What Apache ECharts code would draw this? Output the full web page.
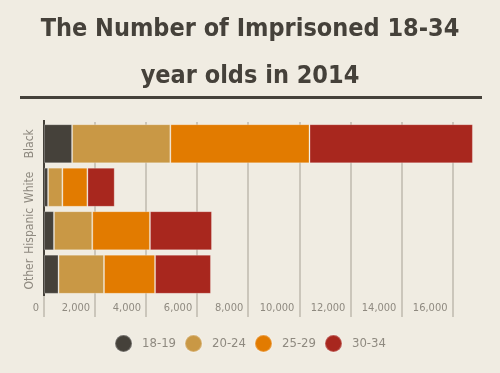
<!DOCTYPE html>
<html><head><meta charset="utf-8">
<script src="https://cdn.jsdelivr.net/npm/echarts@6/dist/echarts.min.js"></script>
<style>html,body{margin:0;padding:0;background:#f0ece2;}#c{width:500px;height:373px;}</style>
</head><body><div id="c"></div>
<script>
const categories = ['Black', 'White', 'Hispanic', 'Other'];
const seriesNames = ['18-19', '20-24', '25-29', '30-34'];
const age18_19 = [1100, 160, 390, 570];
const age20_24 = [3850, 560, 1500, 1780];
const age25_29 = [5450, 980, 2260, 2000];
const age30_34 = [6400, 1070, 2430, 2190];
const xTickInterval = 2000;
const xMax = 17000;
const colors = ['#45413a', '#c99845', '#e27b00', '#a8271e'];
const titleText = 'The Number of Imprisoned 18-34\nyear olds in 2014';

const FONT = "'DejaVu Sans Condensed', 'Liberation Sans Narrow', sans-serif";
const chart = echarts.init(document.getElementById('c'), null, {renderer: 'canvas'});
const values = [age18_19, age20_24, age25_29, age30_34];
const option = {
  backgroundColor: '#f0ece2',
  animation: false,
  color: colors,
  title: {
    text: titleText,
    left: 'center', top: 1,
    textStyle: {fontFamily: FONT, fontWeight: 'bold', fontSize: 25, lineHeight: 47, color: '#45413a'}
  },
  legend: {
    bottom: 15, left: 'center',
    icon: 'circle', itemWidth: 17, itemHeight: 17, itemGap: 8,
    textStyle: {fontFamily: FONT, fontSize: 13, color: '#8f8a80', padding: [0, 0, 0, 5]},
    data: seriesNames
  },
  grid: {left: 44, right: 22, top: 122, bottom: 77, containLabel: false},
  xAxis: {
    type: 'value', min: 0, max: xMax, interval: xTickInterval,
    axisLine: {show: false},
    axisTick: {show: true, length: 21, lineStyle: {color: '#cbc6bb', width: 2}},
    splitLine: {show: true, showMinLine: false, showMaxLine: false, lineStyle: {color: '#cbc6bb', width: 2}},
    axisLabel: {
      showMaxLabel: false, align: 'right', margin: 7, padding: [0, 5, 0, 0],
      fontFamily: FONT, fontSize: 11, color: '#8f8a80',
      formatter: v => v.toLocaleString('en-US')
    }
  },
  yAxis: {
    type: 'category', inverse: true, data: categories,
    axisLine: {show: true, lineStyle: {color: '#45413a', width: 2}},
    axisTick: {show: false},
    axisLabel: {interval: 0, rotate: 90, margin: 8, fontFamily: FONT, fontSize: 12, color: '#8f8a80'}
  },
  series: seriesNames.map((n, i) => ({
    name: n, type: 'bar', stack: 'total', data: values[i],
    barCategoryGap: '10%',
    itemStyle: {borderColor: 'rgba(255,255,255,0.25)', borderWidth: 1}
  })),
  graphic: []
};
chart.setOption(option);
const x0 = chart.convertToPixel({xAxisIndex: 0}, 0);
const gridRect = chart.getModel().getComponent('grid').coordinateSystem.getRect();
chart.setOption({
  graphic: [
    {type: 'rect', shape: {x: 20, y: 96, width: 462, height: 3}, style: {fill: '#45413a'}},
    {type: 'line', shape: {x1: x0, y1: gridRect.y - 2, x2: x0, y2: gridRect.y + gridRect.height + 21}, style: {stroke: '#45413a', lineWidth: 2}}
  ]
});
</script></body></html>
